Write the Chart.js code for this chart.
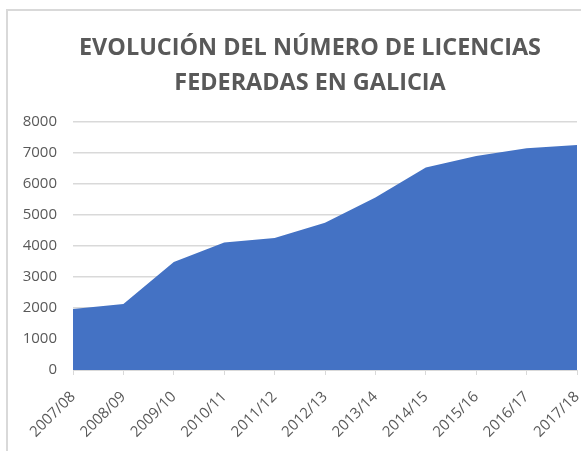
<!DOCTYPE html>
<html>
<head>
<meta charset="utf-8">
<script src="https://cdn.jsdelivr.net/npm/chart.js@4"></script>
<style>
  html, body { margin: 0; padding: 0; background: #fff; overflow: hidden; width: 581px; height: 451px; }
  #frame { position: absolute; left: 6px; top: 9px; width: 660px; height: 500px; border: 2px solid #d9d9d9; }
  #wrap { position: absolute; left: 0; top: 0; width: 620px; height: 451px; }
</style>
</head>
<body>
<div id="frame"></div>
<div id="wrap"><canvas id="chart"></canvas></div>
<script>
const seasons = ['2007/08', '2008/09', '2009/10', '2010/11', '2011/12', '2012/13',
                 '2013/14', '2014/15', '2015/16', '2016/17', '2017/18'];
const licences = [1970, 2130, 3490, 4120, 4260, 4750, 5570, 6540, 6910, 7160, 7260];
const titleLines = ['EVOLUCIÓN DEL NÚMERO DE LICENCIAS', 'FEDERADAS EN GALICIA'];

const grey = '#595959';
const lightGrey = '#d9d9d9';

const ctx = document.getElementById('chart').getContext('2d');
new Chart(ctx, {
    type: 'line',
    data: {
        labels: seasons,
        datasets: [{
            data: licences,
            fill: 'origin',
            backgroundColor: '#4472C4',
            borderWidth: 0,
            pointRadius: 0,
            tension: 0
        }]
    },
    options: {
        responsive: true,
        maintainAspectRatio: false,
        animation: false,
        layout: { padding: 0 },
        plugins: {
            legend: { display: false },
            tooltip: { enabled: false },
            title: {
                display: true,
                text: titleLines,
                color: grey,
                font: { family: 'Open Sans', size: 23.4, weight: 'bold', lineHeight: 1.5 },
                padding: { top: 31, bottom: 21 }
            }
        },
        scales: {
            x: {
                grid: { display: true, drawOnChartArea: false, drawTicks: true, tickLength: 5, color: lightGrey },
                border: { display: true, color: lightGrey, width: 1 },
                ticks: {
                    color: grey,
                    font: { family: 'Open Sans', size: 15 },
                    minRotation: 45,
                    maxRotation: 45,
                    autoSkip: false,
                    padding: 13
                },
                afterFit: (scale) => {   // keep the plot area where the reference has it
                    scale.paddingRight = 43;
                    scale.height = 81;
                }
            },
            y: {
                min: 0,
                max: 8000,
                ticks: {
                    stepSize: 1000,
                    color: grey,
                    font: { family: 'Open Sans', size: 15 },
                    padding: 16,
                    callback: (value) => String(value)
                },
                grid: { color: lightGrey, lineWidth: 1.5, drawTicks: false },
                border: { display: false },
                afterFit: (scale) => { scale.width = 73; }
            }
        }
    }
});
</script>
</body>
</html>
